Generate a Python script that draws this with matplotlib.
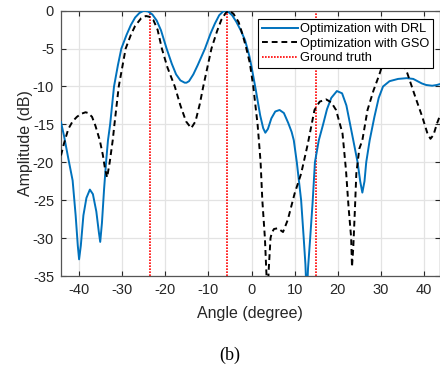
import matplotlib
matplotlib.use("Agg")
import matplotlib.pyplot as plt

plt.rcParams["font.family"] = ["Liberation Sans", "DejaVu Sans"]
plt.rcParams["axes.unicode_minus"] = False

# ground-truth directions (degree)
truth_angles = [-23.5, -5.7, 15.0]

# DRL beam pattern (degree, dB)
drl_angle = [-44.2, -43.5, -42.5, -41.5, -40.8, -40.3, -40.0, -39.6, -39.0, -38.3,
             -37.5, -36.8, -36.0, -35.4, -35.1, -34.7, -34.2, -33.7, -33.3, -32.8,
             -31.9, -31.0, -30.2, -29.0, -28.0, -27.0, -26.0, -25.0, -24.0, -23.0,
             -22.0, -21.0, -19.7, -18.5, -17.5, -16.5, -15.5, -15.1, -14.5, -13.5,
             -12.5, -10.8, -9.5, -8.5, -7.5, -6.4, -5.5, -4.5, -3.5, -2.5,
             -1.5, -0.5, 0.0, 1.0, 2.0, 2.7, 3.2, 3.8, 4.6, 5.5,
             6.5, 7.5, 8.5, 9.3, 9.8, 10.5, 11.5, 12.1, 12.5, 12.8,
             13.1, 13.6, 14.2, 14.7, 15.6, 16.6, 17.5, 18.5, 19.8, 21.0,
             22.0, 22.8, 23.6, 24.6, 25.2, 25.7, 26.2, 26.6, 27.4, 28.5,
             29.5, 30.5, 32.0, 34.0, 36.0, 37.5, 38.5, 39.5, 40.5, 41.9,
             43.0, 43.6]
drl_db = [-14.7, -16.5, -19.5, -22.4, -27.0, -31.0, -32.8, -31.0, -27.0, -24.7,
          -23.6, -24.2, -26.5, -29.3, -30.5, -28.0, -23.5, -19.7, -17.1, -15.0,
          -10.0, -7.2, -5.0, -3.2, -1.9, -0.9, -0.3, 0.0, -0.1, -0.5,
          -1.3, -2.6, -5.0, -7.0, -8.4, -9.2, -9.5, -9.5, -9.3, -8.4,
          -7.2, -5.0, -3.0, -1.7, -0.6, 0.0, -0.1, -0.6, -1.5, -2.6,
          -3.9, -6.0, -7.4, -10.5, -13.8, -15.5, -16.1, -15.6, -14.2, -13.3,
          -13.1, -13.5, -14.8, -16.0, -17.1, -20.0, -25.0, -30.0, -33.5, -38.0,
          -34.0, -30.0, -25.0, -20.0, -17.1, -15.0, -13.0, -11.5, -10.6, -10.9,
          -12.5, -14.8, -17.1, -20.0, -22.5, -24.0, -22.5, -20.0, -17.1, -14.0,
          -11.5, -10.0, -9.3, -9.0, -8.9, -9.0, -9.3, -9.6, -9.8, -9.9,
          -9.8, -9.7]

# GSO beam pattern (degree, dB)
gso_angle = [-44.2, -43.5, -42.5, -41.5, -40.5, -39.5, -38.5, -37.9, -37.0, -36.2,
             -35.2, -34.5, -34.0, -33.5, -32.9, -32.2, -31.8, -30.8, -29.2, -28.0,
             -27.0, -25.6, -24.5, -23.7, -22.8, -21.8, -20.8, -19.5, -17.8, -16.5,
             -15.2, -14.0, -13.0, -12.0, -11.2, -9.3, -8.0, -7.0, -6.0, -5.2,
             -4.2, -3.0, -2.0, -1.2, -0.4, 0.4, 1.4, 1.7, 2.1, 2.5,
             3.1, 3.4, 3.7, 4.0, 4.4, 4.7, 5.2, 6.1, 7.3, 8.4,
             10.0, 11.5, 13.0, 14.6, 15.8, 17.3, 18.5, 19.6, 21.1, 21.9,
             22.5, 23.1, 23.3, 23.6, 24.0, 24.3, 25.0, 25.7, 26.9, 28.3,
             29.6, 31.0, 32.5, 34.0, 35.2, 36.1, 38.0, 39.6, 40.8, 41.5,
             42.2, 43.0, 43.6]
gso_db = [-19.1, -17.5, -15.6, -14.6, -14.0, -13.6, -13.4, -13.5, -14.0, -15.2,
          -17.1, -19.0, -20.8, -22.0, -20.0, -17.1, -15.0, -10.0, -5.0, -3.2,
          -2.0, -1.0, -0.7, -0.8, -1.2, -2.5, -5.0, -7.5, -10.0, -12.5,
          -14.6, -15.5, -14.6, -12.3, -10.0, -5.0, -2.7, -1.2, -0.3, 0.0,
          -0.4, -1.5, -3.3, -5.0, -6.9, -10.0, -15.0, -17.1, -20.0, -25.0,
          -30.0, -34.0, -38.0, -34.0, -30.0, -29.3, -28.8, -28.7, -29.2, -27.6,
          -24.1, -21.5, -17.7, -13.1, -12.0, -11.7, -12.1, -13.1, -16.2, -21.0,
          -25.9, -29.9, -33.8, -31.2, -25.9, -21.5, -18.2, -17.1, -13.1, -10.5,
          -8.5, -6.0, -5.0, -5.5, -7.0, -8.2, -11.4, -14.0, -16.2, -16.9,
          -16.4, -14.9, -14.0]

x_ticks = [-40, -30, -20, -10, 0, 10, 20, 30, 40]
y_ticks = [0, -5, -10, -15, -20, -25, -30, -35]

fig = plt.figure(figsize=(4.4, 3.66), dpi=100)
ax = fig.add_axes([0.1386, 0.2459, 0.8603, 0.7249])

ax.plot(drl_angle, drl_db, "-", color="#0072BD", linewidth=1.4, label="Optimization with DRL", zorder=3)
ax.plot(gso_angle, gso_db, color="black", linewidth=1.4, linestyle=(0, (3, 2)),
        label="Optimization with GSO", zorder=3)
for i, a in enumerate(truth_angles):
    ax.axvline(a, color="red", linewidth=1.2, linestyle=(0, (1, 0.8)),
               label="Ground truth" if i == 0 else None, zorder=2)

ax.set_xlim(-44.2, 43.6)
ax.set_ylim(-35, 0)
ax.set_xticks(x_ticks)
ax.set_yticks(y_ticks)
ax.grid(True, color="#e3e3e3", linewidth=0.9)
ax.set_axisbelow(True)
ax.tick_params(direction="in", length=3.5, width=0.8, top=True, right=True,
               labelsize=10.5, colors="#262626", pad=5)
for s in ax.spines.values():
    s.set_color("#555555")
    s.set_linewidth(0.9)

ax.set_xlabel("Angle (degree)", fontsize=11.5, color="#262626")
ax.xaxis.set_label_coords(0.5, -0.14)
ax.xaxis.label.set_va("center")
ax.set_ylabel("Amplitude (dB)", fontsize=11.5, color="#262626")
ax.yaxis.set_label_coords(-0.095, 0.5)
ax.yaxis.label.set_va("center")

leg = ax.legend(loc="upper right", bbox_to_anchor=(0.9836, 0.9676), borderaxespad=0,
                fontsize=9.2, fancybox=False, framealpha=1, edgecolor="black",
                handlelength=2.8, handletextpad=0.2, labelspacing=0.2, borderpad=0.3)
leg.get_frame().set_linewidth(0.8)
leg.set_zorder(5)

fig.text(0.523, 1 - 355 / 366, "(b)", fontsize=13, family="Liberation Serif",
         ha="center", va="center")

fig.savefig("out.png", dpi=100)
